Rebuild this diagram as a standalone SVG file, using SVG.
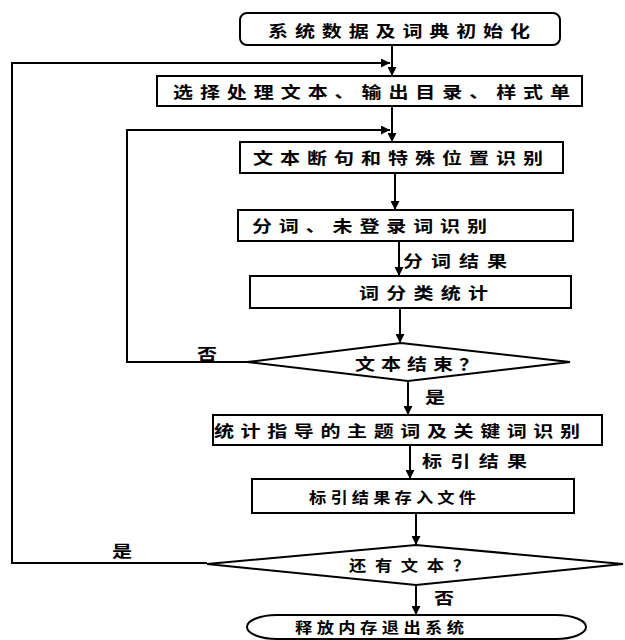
<svg xmlns="http://www.w3.org/2000/svg" width="625" height="640" viewBox="0 0 625 640">
<defs>
<marker id="ah" viewBox="0 0 10 10" refX="10" refY="5" markerWidth="9" markerHeight="9" markerUnits="userSpaceOnUse" orient="auto">
<path d="M0,0 L10,5 L0,10 Z" fill="#000"/>
</marker>
<style>
.box{fill:#fff;stroke:#000;stroke-width:2}
.ln{fill:none;stroke:#000;stroke-width:2}
.t{font-family:"Noto Sans CJK SC","Noto Sans",sans-serif;font-size:16px;font-weight:bold;fill:#000;dominant-baseline:central}
.s{font-size:15px}
</style>
</defs>
<rect width="625" height="640" fill="#fff"/>
<g id="connectors">
<line class="ln" x1="392" y1="45" x2="392" y2="76" marker-end="url(#ah)"/>
<polyline class="ln" points="207,563 12,563 12,63 390,63" marker-end="url(#ah)"/>
<line class="ln" x1="392" y1="106" x2="392" y2="142" marker-end="url(#ah)"/>
<polyline class="ln" points="247,362 127,362 127,130 390,130" marker-end="url(#ah)"/>
<line class="ln" x1="395" y1="173" x2="395" y2="210" marker-end="url(#ah)"/>
<line class="ln" x1="399" y1="241" x2="399" y2="276" marker-end="url(#ah)"/>
<line class="ln" x1="400" y1="308" x2="400" y2="343" marker-end="url(#ah)"/>
<line class="ln" x1="408" y1="381" x2="408" y2="415" marker-end="url(#ah)"/>
<line class="ln" x1="410" y1="445" x2="410" y2="479" marker-end="url(#ah)"/>
<line class="ln" x1="416" y1="513" x2="416" y2="545" marker-end="url(#ah)"/>
<line class="ln" x1="416" y1="585" x2="416" y2="615" marker-end="url(#ah)"/>
<text class="t" transform="translate(403 260) scale(1.25 1)" textLength="83.2" lengthAdjust="spacing">分词结果</text>
<text class="t" transform="translate(197 353) scale(1.25 1)">否</text>
<text class="t" transform="translate(425 396) scale(1.25 1)">是</text>
<text class="t" transform="translate(422 460) scale(1.25 1)" textLength="84" lengthAdjust="spacing">标引结果</text>
<text class="t" transform="translate(112 550) scale(1.25 1)">是</text>
<text class="t" transform="translate(434 597) scale(1.25 1)">否</text>
</g>
<g id="n1">
<rect class="box" x="240" y="13" width="320" height="32" rx="7"/>
<text class="t" transform="translate(268 30) scale(1.25 1)" textLength="209.6" lengthAdjust="spacing">系统数据及词典初始化</text>
</g>
<g id="n2">
<rect class="box" x="157" y="76" width="425" height="30"/>
<text class="t" transform="translate(173 91) scale(1.25 1)" textLength="317.6" lengthAdjust="spacing">选择处理文本、输出目录、样式单</text>
</g>
<g id="n3">
<rect class="box" x="240" y="142" width="323" height="31"/>
<text class="t" transform="translate(253 157) scale(1.25 1)" textLength="232" lengthAdjust="spacing">文本断句和特殊位置识别</text>
</g>
<g id="n4">
<rect class="box" x="238" y="210" width="335" height="31"/>
<text class="t" transform="translate(252 225) scale(1.25 1)" textLength="188" lengthAdjust="spacing">分词、未登录词识别</text>
</g>
<g id="n5">
<rect class="box" x="250" y="276" width="321" height="32"/>
<text class="t" transform="translate(359 292) scale(1.25 1)" textLength="103.2" lengthAdjust="spacing">词分类统计</text>
</g>
<g id="n6">
<polygon class="box" points="401,343 570,362 408,381 247,362"/>
<text class="t" transform="translate(355 363) scale(1.25 1)" textLength="99.2" lengthAdjust="spacing">文本结束？</text>
</g>
<g id="n7">
<rect class="box" x="213" y="415" width="389" height="30"/>
<text class="t" transform="translate(214 430) scale(1.25 1)" textLength="292.8" lengthAdjust="spacing">统计指导的主题词及关键词识别</text>
</g>
<g id="n8">
<rect class="box" x="252" y="479" width="322" height="34"/>
<text class="t s" transform="translate(309 497) scale(1.15 1)" textLength="145.2" lengthAdjust="spacing">标引结果存入文件</text>
</g>
<g id="n9">
<polygon class="box" points="416,545 623,564 416,585 207,564"/>
<text class="t s" transform="translate(349 565) scale(1.15 1)" textLength="105.2" lengthAdjust="spacing">还有文本？</text>
</g>
<g id="n10">
<rect class="box" x="247" y="615" width="339" height="24" rx="30" ry="12"/>
<text class="t s" transform="translate(295 627) scale(1.15 1)" textLength="147" lengthAdjust="spacing">释放内存退出系统</text>
</g>
</svg>
